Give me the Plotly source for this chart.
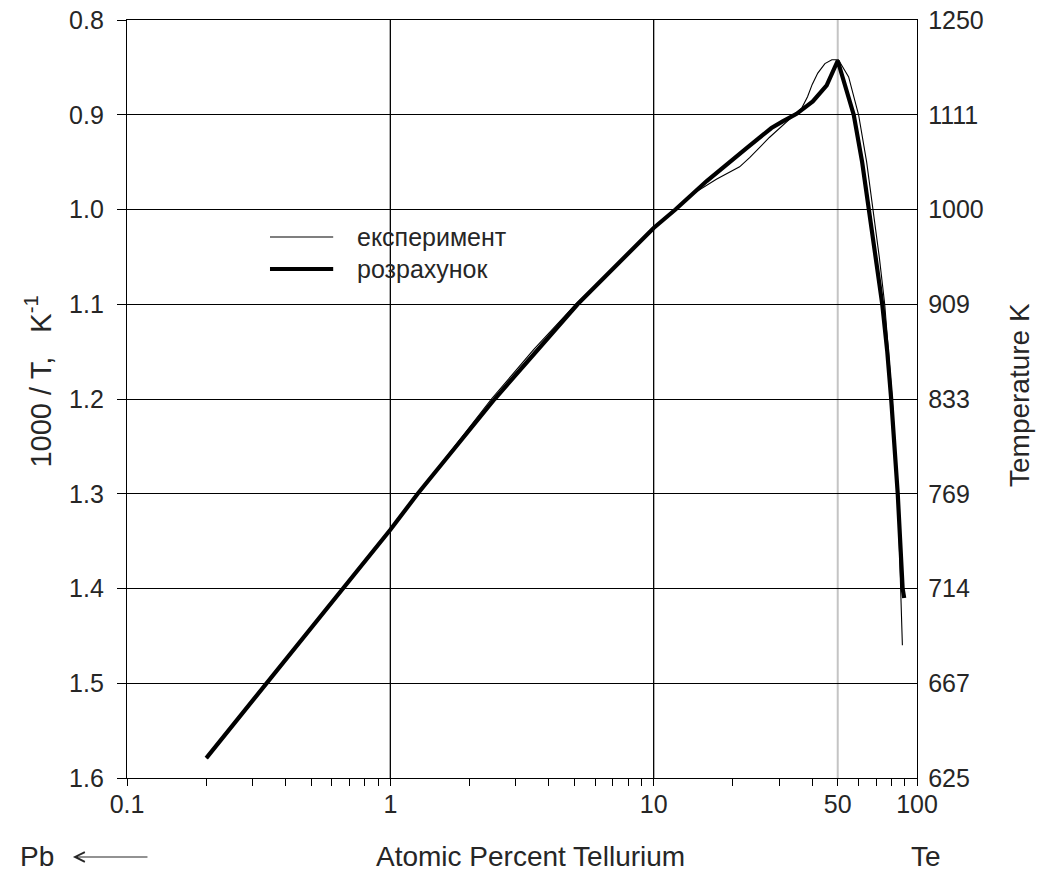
import plotly.graph_objects as go

# Liquidus of the Pb-Te system: 1000/T versus atomic percent tellurium
calc_te = [0.2, 0.339, 0.659, 1.0, 1.27, 2.49, 5.14, 10.0, 12.1, 15.9, 22.6, 28.0,
           30.9, 34.9, 40.2, 45.4, 50.0, 53.8, 57.5, 61.9, 65.8, 70.0, 73.8,
           77.1, 79.8, 84.5, 88.2, 89.4]
calc_inv_t = [1.579, 1.5, 1.4, 1.338, 1.3, 1.2, 1.1, 1.0195, 1.0, 0.970, 0.935, 0.914,
              0.907, 0.899, 0.886, 0.869, 0.843, 0.871, 0.9, 0.95, 1.0, 1.05, 1.1,
              1.15, 1.2, 1.3, 1.4, 1.41]

exp_te = [0.2, 0.339, 0.659, 1.0, 1.27, 1.7, 2.42, 3.5, 5.06, 10.0, 12.1, 13.3, 14.6,
          17.3, 21.2, 23.2, 27.5, 30.9, 34.3, 36.5, 38.4, 40.0, 42.0, 44.7, 47.5, 50.3,
          55.0, 60.0, 64.4, 68.2, 71.9, 75.4, 80.5, 84.5, 86.8, 87.3, 88.0]
exp_inv_t = [1.579, 1.5, 1.4, 1.337, 1.3, 1.255, 1.2, 1.148, 1.1, 1.02, 1.0, 0.988, 0.981,
             0.968, 0.955, 0.945, 0.924, 0.911, 0.9, 0.893, 0.881, 0.868, 0.856, 0.846,
             0.842, 0.842, 0.86, 0.9, 0.95, 1.0, 1.05, 1.1, 1.2, 1.3, 1.4, 1.42, 1.46]

x_ticks = [0.1, 1, 10, 50, 100]
x_tick_text = ["0.1", "1", "10", "50", "100"]
x_minor = [0.2, 0.3, 0.4, 0.5, 0.6, 0.7, 0.8, 0.9,
           2, 3, 4, 5, 6, 7, 8, 9,
           20, 30, 40, 60, 70, 80, 90]
y_ticks = [0.8, 0.9, 1.0, 1.1, 1.2, 1.3, 1.4, 1.5, 1.6]
y_tick_text = [f"{v:.1f}" for v in y_ticks]
t_tick_text = [f"{1000 / v:.0f}" for v in y_ticks]
grid_x_black = [1, 10]
grid_x_grey = [50]

legend_names = ["експеримент", "розрахунок"]

FONT = "Liberation Sans, Arial, sans-serif"
INK = "#262626"

fig = go.Figure()
fig.add_trace(go.Scatter(x=calc_te, y=calc_inv_t, mode="lines", name=legend_names[1],
                         line=dict(color="black", width=4.2), showlegend=False))
# the experimental curve sits on the temperature axis (same scale, 1000/T)
fig.add_trace(go.Scatter(x=exp_te, y=exp_inv_t, mode="lines", name=legend_names[0],
                         line=dict(color="black", width=1.1), showlegend=False,
                         yaxis="y2"))

# vertical grid lines (black at decades, grey at the 50 % composition)
for gx in grid_x_black:
    fig.add_shape(type="line", xref="x", yref="paper", x0=gx, x1=gx, y0=0, y1=1,
                  line=dict(color="black", width=1.3), layer="below")
for gx in grid_x_grey:
    fig.add_shape(type="line", xref="x", yref="paper", x0=gx, x1=gx, y0=0, y1=1,
                  line=dict(color="#c4c4c4", width=2), layer="below")

# hand-made legend
leg_x0, leg_x1, leg_tx = 0.181, 0.261, 0.289
leg_rows = [(0.7137, 1.1, legend_names[0]), (0.6715, 4.2, legend_names[1])]
for ly, lw, lname in leg_rows:
    fig.add_shape(type="line", xref="paper", yref="paper", x0=leg_x0, x1=leg_x1,
                  y0=ly, y1=ly, line=dict(color="black", width=lw))
    fig.add_annotation(xref="paper", yref="paper", x=leg_tx, y=ly, text=lname,
                       showarrow=False, xanchor="left", yanchor="middle",
                       font=dict(family=FONT, size=25, color=INK))

# axis titles
fig.add_annotation(xref="paper", yref="paper", x=-0.1127, y=0.523,
                   text="1000 / T,   K<sup>-1</sup>", textangle=-90, showarrow=False,
                   xanchor="center", yanchor="middle",
                   font=dict(family=FONT, size=29, color=INK))
fig.add_annotation(xref="paper", yref="paper", x=1.1304, y=0.5053,
                   text="Temperature K", textangle=-90, showarrow=False,
                   xanchor="center", yanchor="middle",
                   font=dict(family=FONT, size=28, color=INK))

# labels under the composition axis
fig.add_annotation(xref="paper", yref="paper", x=0.511, y=-0.1042,
                   text="Atomic Percent Tellurium", showarrow=False,
                   xanchor="center", yanchor="middle",
                   font=dict(family=FONT, size=28, color=INK))
fig.add_annotation(xref="paper", yref="paper", x=-0.1139, y=-0.1042, text="Pb",
                   showarrow=False, xanchor="center", yanchor="middle",
                   font=dict(family=FONT, size=28, color=INK))
fig.add_annotation(xref="paper", yref="paper", x=1.0115, y=-0.1042, text="Te",
                   showarrow=False, xanchor="center", yanchor="middle",
                   font=dict(family=FONT, size=28, color=INK))
fig.add_annotation(xref="paper", yref="paper", x=-0.0684, y=-0.1042, text="",
                   showarrow=True, ax=76, ay=0, arrowhead=5, arrowsize=1.6,
                   arrowwidth=1.2, arrowcolor=INK, standoff=0)

fig.update_layout(
    width=1040, height=881,
    margin=dict(l=127, r=123, t=20, b=103),
    paper_bgcolor="white", plot_bgcolor="white",
    font=dict(family=FONT, size=25, color=INK),
    showlegend=False,
    xaxis=dict(
        type="log", range=[-1, 2], automargin=False,
        tickvals=x_ticks, ticktext=x_tick_text,
        ticks="outside", ticklen=7, tickwidth=1.2, tickcolor="black",
        ticklabelstandoff=-3,
        minor=dict(tickvals=x_minor, ticks="outside", ticklen=7, tickwidth=1.2,
                   tickcolor="black", showgrid=False),
        showgrid=False, zeroline=False,
        showline=True, linecolor="black", linewidth=1.3, mirror=True,
        tickfont=dict(family=FONT, size=25, color=INK),
    ),
    yaxis=dict(
        range=[1.6, 0.8], automargin=False,
        tickvals=y_ticks, ticktext=y_tick_text,
        ticks="outside", ticklen=9, tickwidth=1.2, tickcolor="black",
        ticklabelstandoff=8,
        showgrid=True, gridcolor="black", gridwidth=1.3, zeroline=False,
        showline=True, linecolor="black", linewidth=1.3,
        tickfont=dict(family=FONT, size=25, color=INK),
    ),
    yaxis2=dict(
        overlaying="y", side="right", anchor="x", automargin=False,
        range=[1.6, 0.8],
        tickvals=y_ticks, ticktext=t_tick_text,
        ticks="", ticklabelstandoff=5, showgrid=False, zeroline=False,
        showline=True, linecolor="black", linewidth=1.3,
        tickfont=dict(family=FONT, size=25, color=INK),
    ),
)

fig.write_html("out.html")
